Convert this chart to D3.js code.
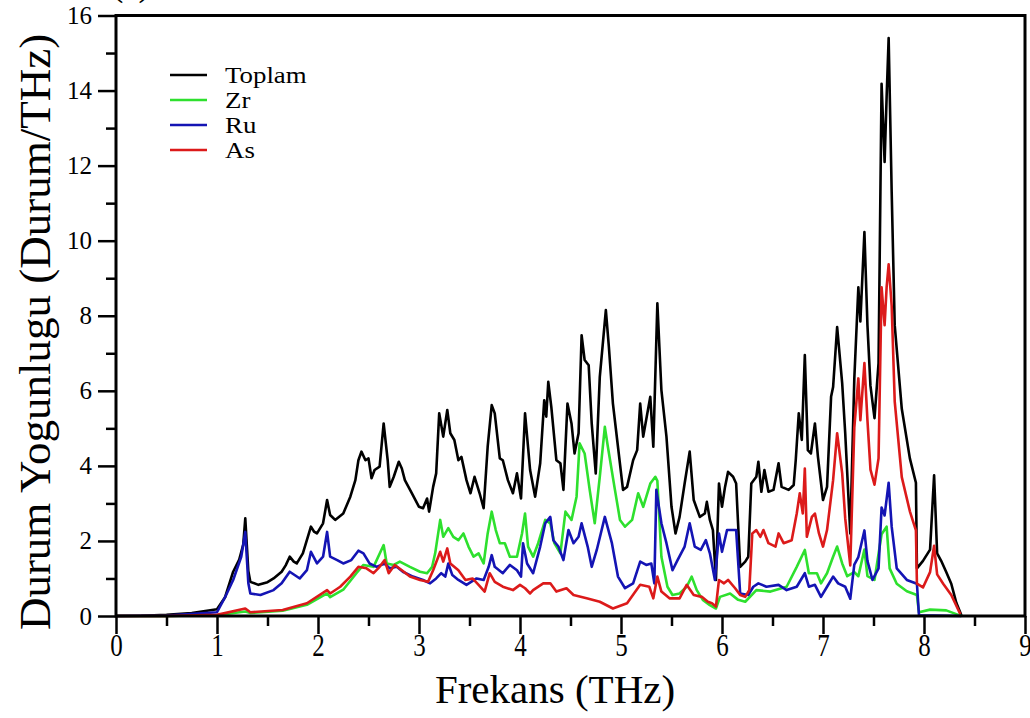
<!DOCTYPE html>
<meta charset="utf-8">
<style>
  body { margin: 0; background: #fff; }
  svg text { font-family: "Liberation Serif", "Times New Roman", serif; }
</style>
<body>
<script src="https://d3js.org/d3.v7.min.js"></script>
<script>

// Phonon density of states: total and partial (Zr, Ru, As), [frequency THz, states/THz]

var toplamDos = [[0,0],[0.25,0.005],[0.5,0.03],[0.75,0.08],[1.0,0.18],[1.08,0.5],[1.16,1.18],[1.22,1.5],[1.26,1.9],[1.28,2.6],[1.31,1.2],[1.33,0.91],[1.41,0.83],[1.5,0.9],[1.56,1.0],[1.64,1.18],[1.68,1.35],[1.72,1.58],[1.76,1.45],[1.79,1.4],[1.85,1.67],[1.93,2.38],[1.96,2.25],[1.99,2.2],[2.05,2.47],[2.09,3.09],[2.12,2.69],[2.17,2.56],[2.25,2.73],[2.32,3.18],[2.37,3.62],[2.40,4.15],[2.43,4.38],[2.47,4.15],[2.50,4.2],[2.53,3.67],[2.56,3.89],[2.61,3.98],[2.65,5.13],[2.69,4.15],[2.71,3.44],[2.75,3.71],[2.80,4.11],[2.83,3.93],[2.86,3.62],[2.93,3.27],[3.0,2.91],[3.04,2.87],[3.08,3.13],[3.10,2.78],[3.14,3.44],[3.17,3.8],[3.20,5.40],[3.24,4.78],[3.28,5.49],[3.31,4.87],[3.35,4.69],[3.39,4.15],[3.42,4.24],[3.47,3.62],[3.51,3.27],[3.55,3.71],[3.60,3.27],[3.64,2.87],[3.68,4.51],[3.72,5.62],[3.75,5.40],[3.80,4.2],[3.83,4.15],[3.88,3.62],[3.93,3.27],[3.97,3.8],[4.01,3.13],[4.05,5.40],[4.10,3.89],[4.15,3.18],[4.20,4.07],[4.24,5.75],[4.26,5.31],[4.28,6.24],[4.31,5.57],[4.36,4.15],[4.40,4.07],[4.43,3.36],[4.47,5.66],[4.51,5.13],[4.54,4.33],[4.58,4.87],[4.61,7.48],[4.64,6.82],[4.68,6.68],[4.71,5.13],[4.75,3.8],[4.79,6.37],[4.82,7.26],[4.85,8.15],[4.88,7.17],[4.92,5.66],[4.97,4.51],[5.02,3.36],[5.06,3.44],[5.12,4.15],[5.16,4.42],[5.19,5.66],[5.22,4.78],[5.29,5.84],[5.32,4.51],[5.36,8.33],[5.40,6.02],[5.45,4.78],[5.50,2.91],[5.54,2.20],[5.58,2.64],[5.63,3.53],[5.68,4.38],[5.72,3.09],[5.78,2.64],[5.83,2.73],[5.85,3.04],[5.88,2.56],[5.91,2.29],[5.94,0.96],[5.97,3.53],[6.0,2.91],[6.03,3.44],[6.06,3.84],[6.11,3.71],[6.14,3.53],[6.18,1.31],[6.23,1.45],[6.26,1.58],[6.29,3.53],[6.34,3.71],[6.36,4.11],[6.39,3.31],[6.42,3.89],[6.46,3.31],[6.51,3.36],[6.56,4.07],[6.59,3.44],[6.66,3.36],[6.71,3.49],[6.73,4.15],[6.76,5.40],[6.79,4.69],[6.82,6.95],[6.85,4.42],[6.88,4.33],[6.92,5.13],[6.95,4.24],[7.0,3.09],[7.04,3.44],[7.08,5.84],[7.10,6.1],[7.14,7.7],[7.19,6.2],[7.22,4.87],[7.27,2.2],[7.31,6.33],[7.35,8.76],[7.37,7.85],[7.41,10.23],[7.44,7.75],[7.47,6.13],[7.51,5.27],[7.55,6.74],[7.58,14.18],[7.61,12.1],[7.63,13.83],[7.65,15.4],[7.68,11.3],[7.71,7.75],[7.78,5.52],[7.86,4.2],[7.92,3.55],[7.93,1.27],[7.99,1.47],[8.06,1.77],[8.10,3.75],[8.13,1.67],[8.17,1.47],[8.22,1.17],[8.27,0.86],[8.32,0.35],[8.37,0.02]];

var zrDos = [[0,0],[0.5,0],[1.0,0.02],[1.28,0.12],[1.33,0.08],[1.65,0.14],[1.89,0.3],[2.09,0.6],[2.12,0.5],[2.25,0.7],[2.38,1.14],[2.45,1.36],[2.55,1.31],[2.65,1.89],[2.68,1.4],[2.75,1.36],[2.81,1.45],[2.91,1.31],[3.01,1.18],[3.08,1.14],[3.13,1.31],[3.16,1.67],[3.21,2.56],[3.24,2.11],[3.29,2.34],[3.34,2.11],[3.39,2.02],[3.44,2.2],[3.49,1.85],[3.54,1.58],[3.59,1.67],[3.64,1.4],[3.68,2.2],[3.72,2.78],[3.76,2.29],[3.80,1.94],[3.85,1.94],[3.90,1.58],[3.97,1.58],[4.02,2.2],[4.05,2.73],[4.08,1.85],[4.13,1.58],[4.18,1.94],[4.25,2.56],[4.30,2.47],[4.34,1.94],[4.40,1.67],[4.45,2.78],[4.51,2.56],[4.56,3.18],[4.59,4.6],[4.64,4.33],[4.69,3.36],[4.74,2.47],[4.79,3.71],[4.84,5.04],[4.87,4.51],[4.94,3.36],[4.99,2.56],[5.04,2.38],[5.11,2.56],[5.17,3.27],[5.22,2.91],[5.29,3.53],[5.34,3.71],[5.36,3.6],[5.40,1.58],[5.46,0.78],[5.51,0.56],[5.58,0.6],[5.65,0.78],[5.70,1.05],[5.75,0.69],[5.81,0.43],[5.88,0.29],[5.94,0.2],[5.98,0.51],[6.08,0.6],[6.16,0.43],[6.23,0.38],[6.34,0.69],[6.48,0.65],[6.64,0.78],[6.74,1.31],[6.82,1.76],[6.86,1.14],[6.94,1.14],[6.98,0.87],[7.04,1.14],[7.10,1.58],[7.14,1.85],[7.19,1.4],[7.24,1.06],[7.31,1.17],[7.35,1.06],[7.41,1.77],[7.44,1.06],[7.51,0.96],[7.58,2.18],[7.63,2.38],[7.66,1.27],[7.73,0.86],[7.83,0.66],[7.93,0.56],[7.95,0.1],[8.06,0.17],[8.22,0.15],[8.32,0.05],[8.37,0]];

var ruDos = [[0,0],[0.5,0.01],[1.0,0.1],[1.08,0.5],[1.16,0.96],[1.24,1.58],[1.28,2.24],[1.31,0.88],[1.33,0.6],[1.43,0.56],[1.56,0.69],[1.64,0.87],[1.72,1.18],[1.82,1.0],[1.89,1.22],[1.93,1.71],[1.99,1.4],[2.05,1.58],[2.09,2.24],[2.12,1.58],[2.19,1.49],[2.25,1.4],[2.33,1.49],[2.40,1.74],[2.45,1.67],[2.51,1.4],[2.58,1.31],[2.66,1.4],[2.71,1.27],[2.78,1.31],[2.84,1.18],[2.94,1.05],[3.04,0.96],[3.11,0.87],[3.17,1.0],[3.22,1.14],[3.26,1.05],[3.29,1.4],[3.33,1.09],[3.39,0.96],[3.47,0.83],[3.57,1.0],[3.64,0.96],[3.69,1.31],[3.72,1.62],[3.75,1.31],[3.83,1.14],[3.90,1.36],[3.97,1.22],[4.01,1.05],[4.03,1.94],[4.07,1.4],[4.13,1.14],[4.20,1.85],[4.25,2.47],[4.30,2.64],[4.33,2.02],[4.38,1.85],[4.43,1.49],[4.48,2.29],[4.53,1.94],[4.58,2.11],[4.61,2.47],[4.67,1.85],[4.71,1.31],[4.76,1.76],[4.84,2.64],[4.91,1.94],[4.97,1.05],[5.04,0.74],[5.12,0.87],[5.19,1.45],[5.25,1.36],[5.30,1.4],[5.33,0.87],[5.35,3.36],[5.40,2.47],[5.45,1.94],[5.51,1.22],[5.56,1.49],[5.63,1.85],[5.68,2.47],[5.73,1.85],[5.79,1.76],[5.84,2.02],[5.88,1.67],[5.93,0.96],[5.97,2.2],[6.0,1.71],[6.05,2.29],[6.14,2.29],[6.18,0.6],[6.26,0.56],[6.31,0.78],[6.36,0.87],[6.44,0.78],[6.56,0.83],[6.64,0.69],[6.74,0.78],[6.82,1.14],[6.86,0.78],[6.92,0.83],[6.98,0.51],[7.04,0.78],[7.10,1.05],[7.15,0.87],[7.22,0.78],[7.27,0.46],[7.31,1.37],[7.35,1.57],[7.41,2.28],[7.44,1.47],[7.49,0.96],[7.55,1.27],[7.58,2.89],[7.61,2.68],[7.65,3.55],[7.68,2.38],[7.73,1.27],[7.83,0.96],[7.93,0.86],[7.95,0.02],[8.37,0]];

var asDos = [[0,0],[0.5,0],[1.0,0.03],[1.28,0.2],[1.33,0.1],[1.65,0.16],[1.89,0.34],[2.09,0.69],[2.12,0.6],[2.22,0.78],[2.32,1.05],[2.40,1.31],[2.48,1.27],[2.55,1.14],[2.61,1.31],[2.66,1.49],[2.70,1.14],[2.76,1.36],[2.83,1.22],[2.91,1.05],[3.01,0.96],[3.09,0.91],[3.14,1.22],[3.21,1.71],[3.24,1.45],[3.28,1.8],[3.31,1.4],[3.39,1.22],[3.46,0.96],[3.53,1.0],[3.59,0.83],[3.65,0.65],[3.70,1.14],[3.75,0.91],[3.83,0.78],[3.93,0.69],[4.0,0.83],[4.05,0.74],[4.1,0.6],[4.13,0.69],[4.23,0.87],[4.30,0.87],[4.36,0.65],[4.46,0.74],[4.53,0.56],[4.66,0.47],[4.79,0.38],[4.92,0.2],[5.06,0.34],[5.19,0.83],[5.28,0.78],[5.32,0.47],[5.36,1.05],[5.40,0.65],[5.48,0.47],[5.58,0.47],[5.65,0.83],[5.72,0.56],[5.80,0.51],[5.86,0.38],[5.90,0.34],[5.94,0.25],[5.97,0.96],[6.02,0.87],[6.06,0.96],[6.13,0.74],[6.18,0.56],[6.23,0.51],[6.27,0.69],[6.30,2.2],[6.34,2.29],[6.38,2.11],[6.41,2.29],[6.46,1.94],[6.53,1.85],[6.56,2.2],[6.61,1.94],[6.69,2.02],[6.74,2.73],[6.77,3.27],[6.80,2.73],[6.82,3.93],[6.84,2.11],[6.89,2.64],[6.92,2.73],[6.96,2.2],[7.0,1.85],[7.04,2.29],[7.10,3.62],[7.14,4.87],[7.19,3.8],[7.22,2.6],[7.27,1.35],[7.31,5.02],[7.35,6.33],[7.37,5.22],[7.41,6.74],[7.44,5.22],[7.47,3.9],[7.51,3.5],[7.55,4.2],[7.58,8.76],[7.61,7.75],[7.63,8.76],[7.65,9.37],[7.68,8.26],[7.71,5.72],[7.78,3.7],[7.86,2.79],[7.92,2.28],[7.93,0.86],[7.99,0.76],[8.06,1.17],[8.10,1.87],[8.13,1.11],[8.19,0.86],[8.27,0.56],[8.36,0.05]];

var seriesNames = ["Toplam", "Zr", "Ru", "As"];
var seriesColors = ["#000000", "#2ee02e", "#1414b4", "#dc1a1a"];
var seriesData = [toplamDos, zrDos, ruDos, asDos];

var xMajor = d3.range(0, 10, 1),
    xMinor = d3.range(0.5, 9, 1),
    yMajor = d3.range(0, 18, 2),
    yMinor = d3.range(1, 16, 2);

// SVG container

var width = 1030,
    height = 718;

var svg = d3.select("body").append("svg")
    .attr("width", width)
    .attr("height", height)
    .style("background", "#fff");

var x = d3.scaleLinear().domain([0, 9]).range([116, 1025]);
var y = d3.scaleLinear().domain([0, 16]).range([616, 15.5]);

// Curves (total first, As drawn last)

var line = d3.line()
    .x(function(d) { return x(d[0]); })
    .y(function(d) { return y(d[1]); });

svg.append("g")
    .selectAll("path")
    .data(seriesData)
    .enter().append("path")
    .attr("fill", "none")
    .attr("stroke", function(d, i) { return seriesColors[i]; })
    .attr("stroke-width", 2.6)
    .attr("stroke-linejoin", "round")
    .attr("d", line);

// Axes: major ticks with labels, shorter minor ticks

function styleAxis(g) {
    g.select(".domain").remove();
    g.selectAll(".tick line").attr("stroke", "#000").attr("stroke-width", 2.5);
    g.selectAll(".tick text").attr("fill", "#000");
}

// x labels are drawn a little taller than wide
svg.append("g")
    .attr("transform", "translate(0,616)")
    .call(d3.axisBottom(x).tickValues(xMajor).tickSize(18).tickFormat(d3.format("d")))
    .call(styleAxis)
    .selectAll(".tick text")
    .style("font-size", "25px")
    .attr("dy", null)
    .attr("y", 30.5)
    .attr("transform", "scale(1,1.3)");

svg.append("g")
    .attr("transform", "translate(0,616)")
    .call(d3.axisBottom(x).tickValues(xMinor).tickSize(10).tickFormat(""))
    .call(styleAxis);

svg.append("g")
    .attr("transform", "translate(116,0)")
    .call(d3.axisLeft(y).tickValues(yMajor).tickSize(18).tickPadding(6).tickFormat(d3.format("d")))
    .call(styleAxis)
    .selectAll(".tick text")
    .style("font-size", "25px");

svg.append("g")
    .attr("transform", "translate(116,0)")
    .call(d3.axisLeft(y).tickValues(yMinor).tickSize(10).tickFormat(""))
    .call(styleAxis);

// Plot frame

svg.append("rect")
    .attr("x", x(0))
    .attr("y", y(16))
    .attr("width", x(9) - x(0))
    .attr("height", y(0) - y(16))
    .attr("fill", "none")
    .attr("stroke", "#000")
    .attr("stroke-width", 3);

// Axis titles

svg.append("text")
    .attr("x", 555)
    .attr("y", 703)
    .attr("text-anchor", "middle")
    .style("font-size", "41px")
    .text("Frekans (THz)");

svg.append("text")
    .attr("transform", "translate(50,332) rotate(-90)")
    .attr("text-anchor", "middle")
    .style("font-size", "45px")
    .text("Durum Yogunlugu (Durum/THz)");

svg.append("text")
    .attr("x", 112)
    .attr("y", -4)
    .style("font-size", "34px")
    .text("(a)");

// Legend

var legend = svg.append("g")
    .selectAll("g")
    .data(seriesNames)
    .enter().append("g")
    .attr("transform", function(d, i) { return "translate(170," + (75 + i * 25) + ")"; });

legend.append("line")
    .attr("x1", 0)
    .attr("x2", 37)
    .attr("stroke", function(d, i) { return seriesColors[i]; })
    .attr("stroke-width", 2.6);

legend.append("text")
    .attr("transform", "translate(55,8) scale(1.12,1)")
    .style("font-size", "24px")
    .text(function(d) { return d; });

</script>
